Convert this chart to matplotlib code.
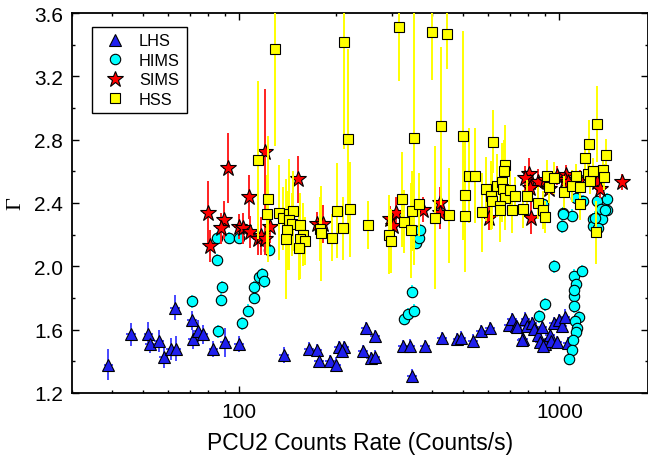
import numpy as np
import matplotlib
matplotlib.use("Agg")
from matplotlib import pyplot as plt
from matplotlib.ticker import LogLocator, MultipleLocator, FixedLocator, NullFormatter

plt.rcParams['font.family'] = ['Liberation Sans', 'DejaVu Sans']

# LHS (blue triangles)
lhs_x = [39, 46, 52, 52.5, 56, 58, 61, 63.5, 63, 71, 71.5, 74, 77, 83, 90, 100,
         138, 165, 175, 177, 192, 201, 204, 212, 209, 248, 244, 257, 266, 265,
         324, 341, 347, 381, 430, 480, 494, 536, 570, 607, 695, 711, 729, 739,
         769, 783, 790, 822, 834, 854, 871, 883, 904, 935, 944, 958, 981, 1000,
         1019, 1044, 1060, 890, 761]
lhs_y = [1.38, 1.57, 1.57, 1.51, 1.53, 1.43, 1.48, 1.48, 1.74, 1.66, 1.54, 1.59, 1.57, 1.48, 1.52, 1.51,
         1.44, 1.48, 1.47, 1.40, 1.40, 1.38, 1.49, 1.49, 1.465, 1.61, 1.465, 1.42, 1.56, 1.43,
         1.495, 1.50, 1.31, 1.495, 1.545, 1.54, 1.55, 1.53, 1.59, 1.61, 1.63, 1.667, 1.625, 1.62,
         1.541, 1.67, 1.625, 1.642, 1.604, 1.566, 1.52, 1.617, 1.508, 1.566, 1.528, 1.642, 1.52, 1.66,
         1.625, 1.68, 1.516, 1.50, 1.533]
lhs_err = [0.1, 0.07, 0.08, 0.06, 0.07, 0.07, 0.07, 0.08, 0.08, 0.06, 0.06, 0.07, 0.06, 0.05, 0.09, 0.05,
           0.05, 0.04, 0.04, 0.04, 0.04, 0.05, 0.04, 0.04, 0.04, 0.04, 0.04, 0.04, 0.04, 0.04,
           0.04, 0.04, 0.04, 0.04, 0.04, 0.04, 0.04, 0.04, 0.04, 0.04, 0.04, 0.04, 0.04, 0.04,
           0.04, 0.04, 0.04, 0.04, 0.04, 0.04, 0.04, 0.04, 0.04, 0.04, 0.04, 0.04, 0.04, 0.04,
           0.04, 0.05, 0.04, 0.04, 0.04]

# HIMS (cyan circles)
hims_x = [71, 85, 92.6, 99.6, 85, 88, 87.5, 86, 102, 106.5, 111, 111, 115, 118, 119.5, 123.5,
          326, 337, 350, 347, 357, 364, 367,
          888, 1024, 1096, 1019, 1122, 1183, 1309, 1406, 1406, 1346, 1271, 1268, 1360, 1322,
          1290, 1383, 1027, 958, 1111, 1172, 1122, 1106, 1106, 904, 863, 1151, 1117, 1133,
          1122, 1101, 1096, 1073, 1106]
hims_y = [1.78, 2.18, 2.18, 2.18, 2.04, 1.87, 1.79, 1.59, 1.64, 1.72, 1.80, 1.87, 1.93, 1.95, 1.905, 2.105,
          1.67, 1.70, 1.72, 1.84, 2.148, 2.177, 2.228,
          2.392, 2.337, 2.32, 2.253, 2.434, 2.413, 2.413, 2.425, 2.358, 2.362, 2.30, 2.253, 2.30, 2.244,
          2.307, 2.358, 2.33, 2.0, 1.941, 1.97, 1.887, 1.811, 1.748, 1.76, 1.685, 1.68, 1.655, 1.613,
          1.583, 1.533, 1.474, 1.415, 1.853]
hims_err = 0.04

# SIMS (red stars)
sims_x = [80, 81, 89.6, 87.8, 92, 99.6, 103, 107.5, 108, 114, 116.6, 120, 120, 125, 152,
          175, 182, 296, 302, 309, 374, 422, 424, 604, 814, 802, 806, 780, 854, 900,
          808, 927, 981, 1050, 1040, 1064, 1157, 1242, 1309, 1340, 1571]
sims_y = [2.34, 2.13, 2.29, 2.24, 2.62, 2.25, 2.24, 2.44, 2.215, 2.17, 2.19, 2.17, 2.72, 2.25, 2.55,
          2.266, 2.266, 2.30, 2.253, 2.337, 2.358, 2.40, 2.337, 2.307, 2.307, 2.585, 2.531, 2.556, 2.535, 2.544,
          2.497, 2.489, 2.573, 2.58, 2.544, 2.531, 2.548, 2.56, 2.531, 2.489, 2.531]
sims_err = [0.2, 0.1, 0.12, 0.1, 0.22, 0.08, 0.1, 0.14, 0.1, 0.1, 0.12, 0.1, 0.4, 0.1, 0.15,
            0.08, 0.12, 0.08, 0.08, 0.1, 0.08, 0.1, 0.1, 0.08, 0.1, 0.1, 0.08, 0.08, 0.08, 0.06,
            0.06, 0.06, 0.06, 0.06, 0.06, 0.06, 0.06, 0.06, 0.06, 0.06, 0.05]

# HSS (yellow squares)
hss_x = [129, 212, 219, 316, 350, 400, 445, 426, 499, 622, 1309, 1236, 1205, 1393, 1368,
         521, 544, 506, 508, 408, 451, 573, 675, 671, 590, 611, 617, 637, 659, 668, 678,
         653, 651, 698, 728, 711, 769, 794, 857, 891, 904, 914, 927, 962, 1030, 1091, 1157,
         1157, 1224, 1248, 1277, 1302, 1373, 1128,
         114, 123, 121.8, 132.7, 137, 142.7, 146.9, 143, 146, 155, 141.3, 140, 158, 155, 160,
         153.4, 178, 179.5, 195, 202, 221, 211, 252, 321, 294, 298, 327, 344, 347, 365]
hss_y = [3.37, 3.42, 2.805, 3.51, 2.81, 3.48, 3.466, 2.885, 2.825, 2.788, 2.90, 2.775, 2.686, 2.703, 2.611,
         2.573, 2.573, 2.451, 2.316, 2.307, 2.324, 2.342, 2.64, 2.60, 2.489, 2.447, 2.413, 2.51, 2.531, 2.489, 2.43,
         2.383, 2.354, 2.484, 2.443, 2.358, 2.362, 2.443, 2.40, 2.354, 2.312, 2.569, 2.501, 2.556, 2.468, 2.506, 2.501,
         2.392, 2.585, 2.539, 2.602, 2.215, 2.565, 2.569,
         2.67, 2.425, 2.329, 2.337, 2.304, 2.329, 2.35, 2.295, 2.266, 2.261, 2.228, 2.173, 2.20, 2.173, 2.16,
         2.114, 2.236, 2.21, 2.181, 2.35, 2.362, 2.24, 2.261, 2.425, 2.20, 2.16, 2.282, 2.228, 2.35, 2.392]
hss_err = [0.61, 0.68, 0.57, 0.34, 0.8, 0.3, 0.22, 0.5, 0.66, 0.2, 0.24, 0.15, 0.12, 0.1, 0.1,
           0.3, 0.3, 0.35, 0.35, 0.45, 0.3, 0.25, 0.25, 0.2, 0.2, 0.22, 0.18, 0.2, 0.25, 0.15, 0.2,
           0.15, 0.2, 0.15, 0.12, 0.15, 0.12, 0.1, 0.1, 0.12, 0.1, 0.1, 0.1, 0.1, 0.1, 0.1, 0.1,
           0.1, 0.08, 0.08, 0.08, 0.2, 0.08, 0.08,
           0.5, 0.4, 0.25, 0.3, 0.2, 0.35, 0.25, 0.3, 0.2, 0.2, 0.25, 0.38, 0.2, 0.25, 0.15,
           0.2, 0.2, 0.3, 0.15, 0.3, 0.3, 0.2, 0.15, 0.3, 0.25, 0.2, 0.2, 0.3, 0.25, 0.2]

series = [
    ('LHS', lhs_x, lhs_y, lhs_err, '^', 9, '#1f1fee', '#4848ff'),
    ('HIMS', hims_x, hims_y, hims_err, 'o', 7.5, '#00ffff', '#00ffff'),
    ('SIMS', sims_x, sims_y, sims_err, '*', 12, '#ff0000', '#ff2020'),
    ('HSS', hss_x, hss_y, hss_err, 's', 7.2, '#ffff00', '#ffff00'),
]

fig = plt.figure(figsize=(6.48, 4.6), dpi=100)
ax = fig.add_axes([72/648, 66/460, 576/648, 380/460])

z = 2
for name, x, y, e, m, ms, fc, ec in series:
    x = np.array(x)
    ax.errorbar(x, y, yerr=e, xerr=0.035*x, fmt='none', ecolor=ec, elinewidth=1.4,
                capsize=0, zorder=z)
    ax.plot(x, y, linestyle='none', marker=m, markersize=ms, markerfacecolor=fc,
            markeredgecolor='black', markeredgewidth=0.8, label=name, zorder=z+0.5)
    z += 1

ax.set_xscale('log')
ax.set_xlim(30, 1890)
ax.set_ylim(1.2, 3.6)
ax.xaxis.set_major_locator(FixedLocator([100, 1000]))
ax.xaxis.set_minor_locator(LogLocator(base=10, subs=np.arange(2, 10)))
ax.xaxis.set_minor_formatter(NullFormatter())
ax.set_xticklabels(['100', '1000'])
ax.yaxis.set_major_locator(MultipleLocator(0.4))
ax.yaxis.set_minor_locator(MultipleLocator(0.2))
ax.yaxis.set_major_formatter(plt.FormatStrFormatter('%.1f'))

ax.tick_params(which='both', direction='in', top=True, right=True, labelsize=15, pad=6.5)
ax.tick_params(which='major', length=5, width=1)
ax.tick_params(which='minor', length=2.5, width=1)
for s in ax.spines.values():
    s.set_linewidth(1.3)

ax.set_xlabel('PCU2 Counts Rate (Counts/s)', fontsize=16.5, labelpad=7)
ax.set_ylabel('Γ', fontsize=16, family=['Liberation Serif', 'DejaVu Serif'], labelpad=6)

leg = ax.legend(loc='upper left', bbox_to_anchor=(20/576, 1 - 14/380), borderaxespad=0,
                fontsize=11.7, labelspacing=0.27, handletextpad=0.5, fancybox=False,
                edgecolor='black', framealpha=1, borderpad=0.4)
leg.get_frame().set_linewidth(1)

fig.savefig('out.png', dpi=100)
